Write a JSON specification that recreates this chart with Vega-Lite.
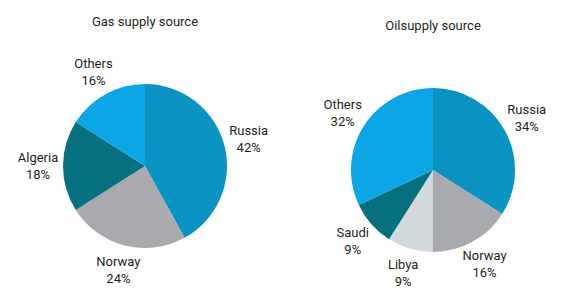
{
  "$schema": "https://vega.github.io/schema/vega-lite/v6.json",
  "padding": {"left": 0, "right": 0, "top": 16, "bottom": 0},
  "spacing": 15,
  "config": {
    "view": {"stroke": null},
    "font": "Roboto",
    "title": {"fontSize": 13, "fontWeight": "normal", "color": "#231f20", "anchor": "middle"}
  },
  "datasets": {
    "gas": [
      {"idx": 1, "source": "Russia", "share": 0.42},
      {"idx": 2, "source": "Norway", "share": 0.24},
      {"idx": 3, "source": "Algeria", "share": 0.18},
      {"idx": 4, "source": "Others", "share": 0.16}
    ],
    "oil": [
      {"idx": 1, "source": "Russia", "share": 0.34},
      {"idx": 2, "source": "Norway", "share": 0.16},
      {"idx": 3, "source": "Libya", "share": 0.09},
      {"idx": 4, "source": "Saudi", "share": 0.09},
      {"idx": 5, "source": "Others", "share": 0.32}
    ]
  },
  "resolve": {"scale": {"color": "shared"}},
  "hconcat": [
    {
      "width": 290,
      "height": 228,
      "title": {"text": "Gas supply source", "offset": 23},
      "data": {"name": "gas"},
      "encoding": {
        "theta": {"field": "share", "type": "quantitative", "stack": true},
        "order": {"field": "idx", "type": "quantitative"}
      },
      "layer": [
        {
          "mark": {"type": "arc", "outerRadius": 82},
          "encoding": {
            "color": {
              "field": "source", "type": "nominal", "legend": null,
              "scale": {
                "domain": ["Russia", "Norway", "Algeria", "Libya", "Saudi", "Others"],
                "range": ["#0b93c4", "#a8aaae", "#07707f", "#d3dade", "#07707f", "#0aa6e6"]
              }
            }
          }
        },
        {
          "mark": {"type": "text", "radius": 107, "dy": -8, "fontSize": 13, "color": "#231f20"},
          "encoding": {"text": {"field": "source", "type": "nominal"}}
        },
        {
          "mark": {"type": "text", "radius": 107, "dy": 9, "fontSize": 13, "color": "#231f20"},
          "encoding": {"text": {"field": "share", "type": "quantitative", "format": ".0%"}}
        }
      ]
    },
    {
      "width": 256,
      "height": 236,
      "title": {"text": "Oilsupply source", "offset": 19},
      "data": {"name": "oil"},
      "encoding": {
        "theta": {"field": "share", "type": "quantitative", "stack": true},
        "order": {"field": "idx", "type": "quantitative"}
      },
      "layer": [
        {
          "mark": {"type": "arc", "outerRadius": 82},
          "encoding": {
            "color": {
              "field": "source", "type": "nominal", "legend": null,
              "scale": {
                "domain": ["Russia", "Norway", "Algeria", "Libya", "Saudi", "Others"],
                "range": ["#0b93c4", "#a8aaae", "#07707f", "#d3dade", "#07707f", "#0aa6e6"]
              }
            }
          }
        },
        {
          "mark": {"type": "text", "radius": 107, "dy": -8, "fontSize": 13, "color": "#231f20"},
          "encoding": {"text": {"field": "source", "type": "nominal"}}
        },
        {
          "mark": {"type": "text", "radius": 107, "dy": 9, "fontSize": 13, "color": "#231f20"},
          "encoding": {"text": {"field": "share", "type": "quantitative", "format": ".0%"}}
        }
      ]
    }
  ]
}
